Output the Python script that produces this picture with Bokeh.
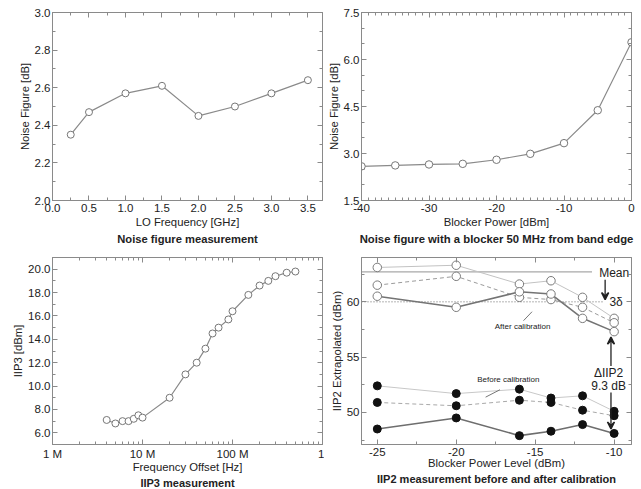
from bokeh.plotting import figure
from bokeh.models import (LinearAxis, LogAxis, FixedTicker, SingleIntervalTicker,
                          NumeralTickFormatter, CustomJSTickFormatter, Range1d,
                          Arrow, VeeHead, Label)
from bokeh.layouts import column, row
from bokeh.embed import file_html
from bokeh.resources import INLINE

FONT = "Liberation Sans"
AX = "#8a8a8a"
TXT = "#222222"
LINE = "#8a8a8a"

# ---------------- data ----------------
# Panel 1: noise figure vs LO frequency
lo_freq_ghz = [0.25, 0.5, 1.0, 1.5, 2.0, 2.5, 3.0, 3.5]
nf_lo_db = [2.35, 2.47, 2.57, 2.61, 2.45, 2.50, 2.57, 2.64]

# Panel 2: noise figure vs blocker power
blocker_power_dbm = [-40, -35, -30, -25, -20, -15, -10, -5, 0]
nf_blocker_db = [2.59, 2.62, 2.65, 2.67, 2.80, 2.99, 3.33, 4.38, 6.55]

# Panel 3: IIP3 vs frequency offset
freq_offset_hz = [4e6, 5e6, 6e6, 7e6, 8e6, 9e6, 10e6, 20e6, 30e6, 40e6, 50e6,
                  60e6, 70e6, 90e6, 100e6, 150e6, 200e6, 250e6, 300e6, 400e6, 500e6]
iip3_dbm = [7.1, 6.8, 7.0, 7.0, 7.2, 7.5, 7.3, 9.0, 11.0, 12.0, 13.2,
            14.5, 15.0, 15.7, 16.4, 17.8, 18.6, 19.0, 19.4, 19.7, 19.8]
freq_ticks = [1e6, 1e7, 1e8, 1e9]
freq_tick_labels = ["1 M", "10 M", "100 M", "1"]

# Panel 4: IIP2 before / after calibration
blocker_level_dbm = [-25, -20, -16, -14, -12, -10]
after_light = [63.1, 63.3, 61.6, 61.9, 60.4, 58.5]
after_dashed = [61.5, 62.3, 60.4, 60.2, 59.5, 58.1]
after_dark = [60.5, 59.5, 60.9, 60.7, 58.5, 57.3]
before_light = [52.4, 51.7, 52.1, 51.3, 51.5, 50.1]
before_dashed = [50.9, 50.6, 51.1, 50.9, 50.2, 49.7]
before_dark = [48.5, 49.5, 47.9, 48.3, 48.9, 48.1]
iip2_mean = 62.7
iip2_3sigma = 60.0
delta_iip2_text = ["\u0394IIP2", "9.3 dB"]


def style_axis(ax, hidden=False, xaxis=False, label_standoff=1):
    ax.major_tick_in = 5
    ax.major_tick_out = 0
    ax.minor_tick_in = 3
    ax.minor_tick_out = 0
    ax.axis_line_color = AX
    ax.major_tick_line_color = AX
    ax.minor_tick_line_color = AX
    ax.major_label_text_font = FONT
    ax.major_label_text_color = TXT
    ax.axis_label_text_font = FONT
    ax.axis_label_text_color = TXT
    ax.axis_label_text_font_style = "normal"
    ax.axis_label_text_font_size = "11.3px"
    ax.axis_label_standoff = label_standoff
    if hidden:
        ax.formatter = CustomJSTickFormatter(code="return '';")
        ax.major_label_text_font_size = "1px"
        ax.major_label_standoff = 0
    else:
        ax.major_label_text_font_size = "11.5px"
        ax.major_label_standoff = 3 if xaxis else 2


def make_fig(width, height, xr, yr, title, xlabel, ylabel, borders,
             xticker, yticker, xfmt=None, yfmt=None, log=False, title_size="11px",
             xlabel_standoff=-2, title_standoff=2):
    p = figure(width=width, height=height, x_range=xr, y_range=yr,
               x_axis_type="log" if log else "linear",
               output_backend="svg", toolbar_location=None,
               title=title, title_location="below",
               min_border_left=borders[0], min_border_right=borders[1],
               min_border_top=borders[2], min_border_bottom=borders[3])
    p.xgrid.visible = False
    p.ygrid.visible = False
    p.outline_line_color = AX
    p.border_fill_color = "white"
    p.background_fill_color = "white"
    p.title.text_font = FONT
    p.title.text_font_size = title_size
    p.title.text_font_style = "bold"
    p.title.text_color = TXT
    p.title.align = "center"
    p.title.standoff = title_standoff
    p.xaxis.ticker = xticker
    p.yaxis.ticker = yticker
    if xfmt is not None:
        p.xaxis.formatter = xfmt
    if yfmt is not None:
        p.yaxis.formatter = yfmt
    p.xaxis.axis_label = xlabel
    p.yaxis.axis_label = ylabel
    style_axis(p.xaxis[0], xaxis=True, label_standoff=xlabel_standoff)
    style_axis(p.yaxis[0])
    top = (LogAxis if log else LinearAxis)(ticker=xticker)
    right = LinearAxis(ticker=yticker)
    style_axis(top, hidden=True)
    style_axis(right, hidden=True)
    p.add_layout(top, "above")
    p.add_layout(right, "right")
    return p


# ---------------- panel 1 ----------------
p1 = make_fig(324, 245, Range1d(0, 3.7), Range1d(2.0, 3.0),
              "Noise figure measurement", "LO Frequency [GHz]", "Noise Figure [dB]",
              (52, 2, 12, 45),
              SingleIntervalTicker(interval=0.5, num_minor_ticks=2),
              SingleIntervalTicker(interval=0.2, num_minor_ticks=2),
              NumeralTickFormatter(format="0.0"), NumeralTickFormatter(format="0.0"),
              title_size="11.2px", xlabel_standoff=1, title_standoff=0)
p1.line(lo_freq_ghz, nf_lo_db, line_color=LINE, line_width=1.2)
p1.scatter(lo_freq_ghz, nf_lo_db, marker="circle", size=7, fill_color="white",
           line_color="#777777", line_width=1)

# ---------------- panel 2 ----------------
p2 = make_fig(317, 245, Range1d(-40, 0), Range1d(1.5, 7.5),
              "Noise figure with a blocker 50 MHz from band edge",
              "Blocker Power [dBm]", "Noise Figure [dB]",
              (37, 10, 12, 45),
              SingleIntervalTicker(interval=10, num_minor_ticks=10),
              SingleIntervalTicker(interval=1.5, num_minor_ticks=3),
              NumeralTickFormatter(format="0"), NumeralTickFormatter(format="0.0"),
              title_size="11.3px", xlabel_standoff=1, title_standoff=0)
p2.line(blocker_power_dbm, nf_blocker_db, line_color=LINE, line_width=1.2)
p2.scatter(blocker_power_dbm, nf_blocker_db, marker="circle", size=7.5, fill_color="white",
           line_color="#777777", line_width=1)

# ---------------- panel 3 ----------------
minor_log = [m * 10 ** e for e in range(6, 9) for m in range(2, 10)]
freq_fmt = CustomJSTickFormatter(
    args=dict(t=freq_ticks, l=freq_tick_labels),
    code="""
    for (let i = 0; i < t.length; i++) {
        if (Math.abs(Math.log10(t[i]) - Math.log10(tick)) < 1e-6) { return l[i]; }
    }
    return '';
    """)
p3 = make_fig(324, 243, Range1d(1e6, 1e9), Range1d(5, 21),
              "IIP3 measurement", "Frequency Offset [Hz]", "IIP3 [dBm]",
              (52, 2, 12, 44),
              FixedTicker(ticks=freq_ticks, minor_ticks=minor_log),
              SingleIntervalTicker(interval=2, num_minor_ticks=2),
              freq_fmt, NumeralTickFormatter(format="0.0"), log=True,
              xlabel_standoff=-2, title_standoff=-2)
p3.line(freq_offset_hz, iip3_dbm, line_color=LINE, line_width=1.2)
p3.scatter(freq_offset_hz, iip3_dbm, marker="circle", size=7, fill_color="white",
           line_color="#777777", line_width=1)

# ---------------- panel 4 ----------------
p4 = make_fig(317, 243, Range1d(-26.0, -8.9), Range1d(47.1, 64.0),
              "IIP2 measurement before and after calibration",
              "Blocker Power Level (dBm)", "IIP2 Extrapolated (dBm)",
              (37, 10, 12, 44),
              SingleIntervalTicker(interval=5, num_minor_ticks=2),
              SingleIntervalTicker(interval=5, num_minor_ticks=2),
              NumeralTickFormatter(format="0"), NumeralTickFormatter(format="0"),
              xlabel_standoff=-2, title_standoff=-2)

# reference lines (mean and 3-sigma)
p4.line([-26.0, -11.4], [iip2_mean, iip2_mean], line_color="#a8a8a8", line_width=1.3)
p4.line([-26.0, -10.7], [iip2_3sigma, iip2_3sigma], line_color="#9a9a9a",
        line_width=1.3, line_dash="1 2")

series = [
    (after_light, "#c2c2c2", "solid", 1.0, False),
    (after_dashed, "#9a9a9a", "4 3", 1.0, False),
    (after_dark, "#747474", "solid", 1.6, False),
    (before_light, "#c8c8c8", "solid", 1.0, True),
    (before_dashed, "#a8a8a8", "4 3", 1.0, True),
    (before_dark, "#6e6e6e", "solid", 1.6, True),
]
for ys, col, dash, lw, filled in series:
    p4.line(blocker_level_dbm, ys, line_color=col, line_dash=dash, line_width=lw)
for ys, col, dash, lw, filled in series:
    if filled:
        p4.scatter(blocker_level_dbm, ys, marker="circle", size=8, fill_color="#111111",
                   line_color="#111111")
    else:
        p4.scatter(blocker_level_dbm, ys, marker="circle", size=8.5, fill_color="white",
                   line_color="#7a7a7a", line_width=1)


def lab(x, y, text, size="12px", align="left"):
    p4.add_layout(Label(x=x, y=y, text=text, text_font=FONT, text_font_size=size,
                        text_color=TXT, text_align=align, text_baseline="middle"))


lab(-10.95, 62.6, "Mean")
lab(-10.3, 60.0, "3\u03b4")
lab(-10.35, 53.55, delta_iip2_text[0], align="center")
lab(-10.35, 52.35, delta_iip2_text[1], align="center")
lab(-15.8, 57.75, "After calibration", size="8px", align="center")
lab(-16.7, 53.0, "Before calibration", size="8px", align="center")

p4.segment(x0=[-15.74, -18.14], y0=[58.29, 51.38], x1=[-15.2, -17.23], y1=[59.1, 52.05],
           line_color="#777777", line_width=1)


def arrow(x0, y0, x1, y1):
    p4.add_layout(Arrow(end=VeeHead(size=7, fill_color=TXT, line_color=TXT, line_width=1.5),
                        x_start=x0, y_start=y0, x_end=x1, y_end=y1,
                        line_color=TXT, line_width=1.3))


arrow(-10.57, 62.0, -10.57, 60.2)
arrow(-10.2, 54.2, -10.2, 56.8)
arrow(-10.2, 51.8, -10.2, 48.5)

layout = column(row(p1, p2), row(p3, p4))
open("out.html", "w").write(file_html(layout, INLINE))
